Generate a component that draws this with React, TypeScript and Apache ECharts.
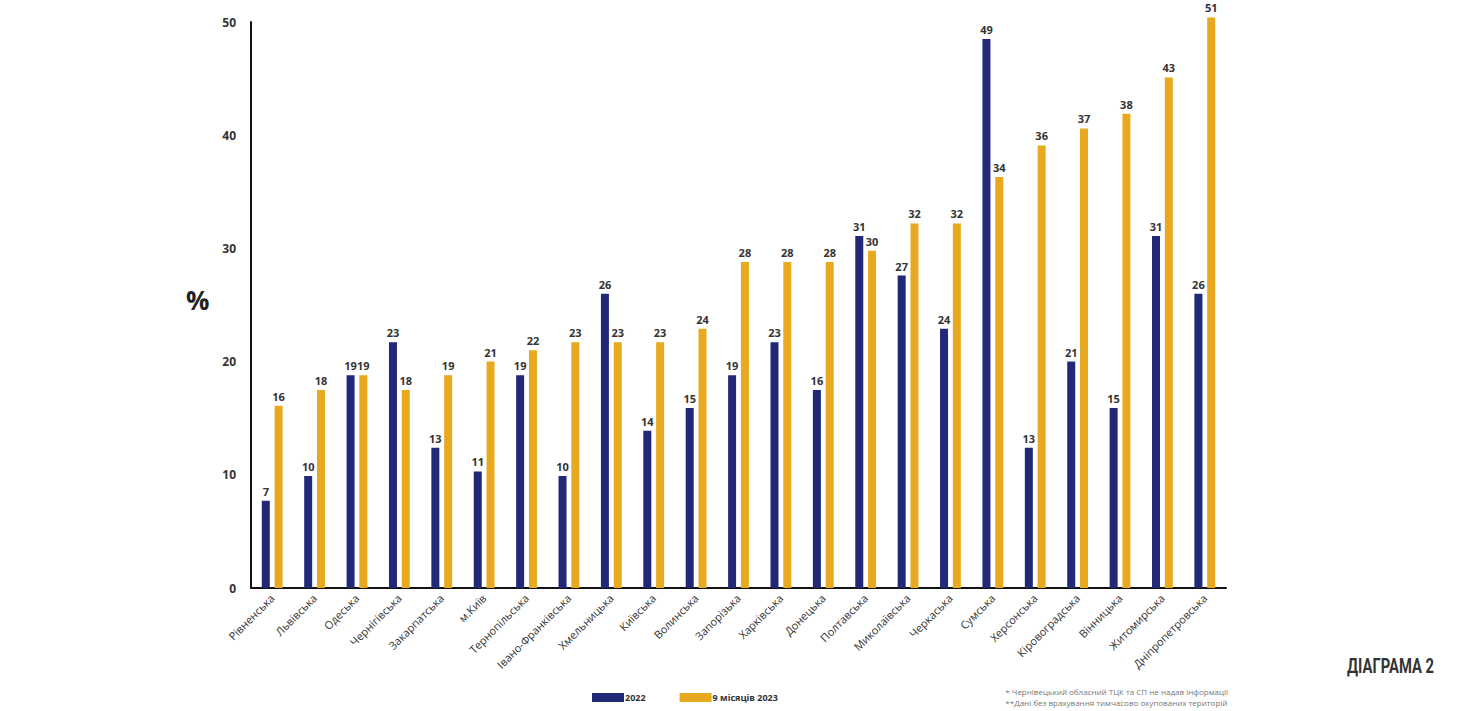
import React, { useEffect, useRef } from "react";
import * as echarts from "echarts";

const regions = [
  "Рівненська", "Львівська", "Одеська", "Чернігівська", "Закарпатська", "м.Київ",
  "Тернопільська", "Івано-Франківська", "Хмельницька", "Київська", "Волинська",
  "Запорізька", "Харківська", "Донецька", "Полтавська", "Миколаївська", "Черкаська",
  "Сумська", "Херсонська", "Кіровоградська", "Вінницька", "Житомирська", "Дніпропетровська",
];

// bar heights as drawn
const values2022 = [7.7, 9.9, 18.8, 21.7, 12.4, 10.3, 18.8, 9.9, 26.0, 13.9, 15.9, 18.8, 21.7, 17.5, 31.1, 27.6, 22.9, 48.5, 12.4, 20.0, 15.9, 31.1, 26.0];
const values2023 = [16.1, 17.5, 18.8, 17.5, 18.8, 20.0, 21.0, 21.7, 21.7, 21.7, 22.9, 28.8, 28.8, 28.8, 29.8, 32.2, 32.2, 36.3, 39.1, 40.6, 41.9, 45.1, 50.4];

// numbers printed above the bars
const labels2022 = [7, 10, 19, 23, 13, 11, 19, 10, 26, 14, 15, 19, 23, 16, 31, 27, 24, 49, 13, 21, 15, 31, 26];
const labels2023 = [16, 18, 19, 18, 19, 21, 22, 23, 23, 23, 24, 28, 28, 28, 30, 32, 32, 34, 36, 37, 38, 43, 51];

const seriesNames = ["2022", "9 місяців 2023"];
const footnotes = [
  "* Чернівецький обласний ТЦК та СП не надав інформації",
  "**Дані без врахування тимчасово окупованих територій",
];
const title = "ДІАГРАМА 2";

const NAVY = "#212877";
const GOLD = "#E8A91F";
const TXT = "#333333";
const FONT = "'Open Sans', 'Noto Sans', sans-serif";

export default function App() {
  const ref = useRef<HTMLDivElement>(null);
  useEffect(() => {
    if (!ref.current) return;
    const chart = echarts.init(ref.current, undefined, { renderer: "svg" });
    const labelStyle = (arr: number[]) => ({
      show: true,
      position: "top" as const,
      distance: 4,
      color: TXT,
      fontSize: 11,
      fontWeight: "bold" as const,
      fontFamily: FONT,
      formatter: (p: any) => String(arr[p.dataIndex]),
    });
    chart.setOption({
      animation: false,
      backgroundColor: "#ffffff",
      grid: { left: 251, right: 231, top: 22, bottom: 123, containLabel: false },
      legend: {
        left: 587,
        top: 688,
        itemWidth: 32,
        itemHeight: 9,
        itemGap: 34,
        icon: "rect",
        textStyle: { color: TXT, fontSize: 9, fontWeight: "bold", fontFamily: FONT, padding: [0, 0, 0, -4] },
        data: seriesNames,
      },
      xAxis: {
        type: "category",
        data: regions,
        axisLine: { lineStyle: { color: "#111", width: 2 } },
        axisTick: { show: false },
        axisLabel: {
          rotate: 45,
          interval: 0,
          margin: 8,
          color: TXT,
          fontSize: 11,
          fontFamily: FONT,
        },
      },
      yAxis: {
        type: "value",
        min: 0,
        max: 50,
        interval: 10,
        axisLine: { show: true, lineStyle: { color: "#111", width: 2 } },
        axisTick: { show: false },
        splitLine: { show: false },
        axisLabel: { color: TXT, fontSize: 12, fontWeight: "bold", fontFamily: FONT, margin: 15 },
      },
      series: [
        {
          name: seriesNames[0],
          type: "bar",
          data: values2022,
          barWidth: 8,
          barGap: "60%",
          clip: false,
          itemStyle: { color: NAVY },
          label: labelStyle(labels2022),
        },
        {
          name: seriesNames[1],
          type: "bar",
          data: values2023,
          barWidth: 8,
          clip: false,
          itemStyle: { color: GOLD },
          label: labelStyle(labels2023),
        },
      ],
      graphic: [
        {
          type: "text",
          left: 186,
          top: 287,
          style: { text: "%", fontSize: 26, fontWeight: "bold", fill: "#222", fontFamily: FONT },
        },
        {
          type: "text",
          right: 229,
          top: 686,
          style: {
            text: footnotes.join("\n"),
            fontSize: 8,
            lineHeight: 11,
            fill: "#777",
            align: "right",
            fontFamily: FONT,
          },
        },
        {
          type: "text",
          x: 1347,
          y: 656,
          scaleX: 0.74,
          style: {
            text: title,
            fontSize: 20,
            fontWeight: "bold",
            fill: "#333",
            fontFamily: "'Roboto', 'Liberation Sans', sans-serif",
          },
        },
      ],
    });
    return () => chart.dispose();
  }, []);
  return (
    <div
      ref={ref}
      style={{ position: "fixed", left: 0, top: 0, width: 1457, height: 711, background: "#fff" }}
    />
  );
}
